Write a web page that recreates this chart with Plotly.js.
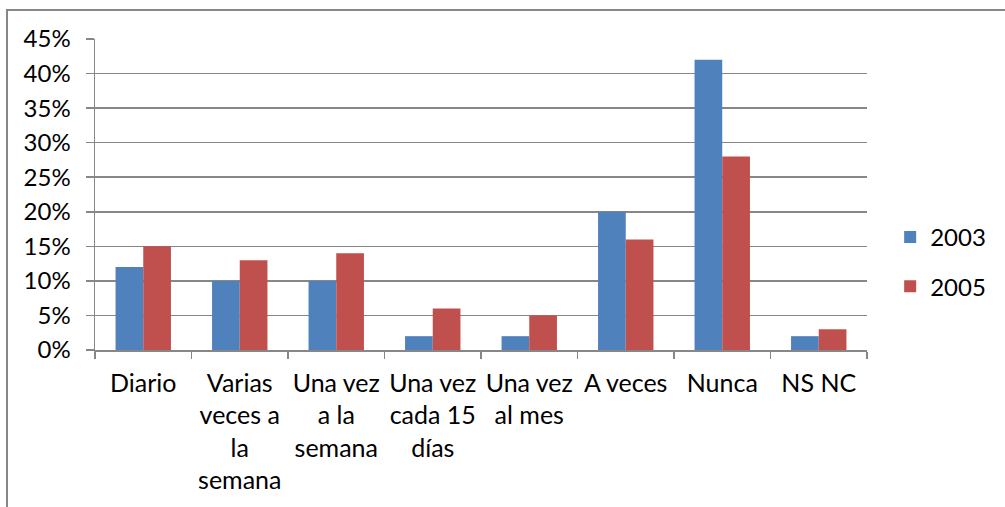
<!DOCTYPE html>
<html>
<head>
<meta charset="utf-8">
<script src="https://cdn.plot.ly/plotly-3.0.1.min.js"></script>
<style>html,body{margin:0;padding:0;background:#fff;}#chart{width:1005px;height:507px;}</style>
</head>
<body>
<div id="chart"></div>
<script>
const categories = ["Diario", "Varias<br>veces a<br>la<br>semana", "Una vez<br>a la<br>semana", "Una vez<br>cada 15<br>días", "Una vez<br>al mes", "A veces", "Nunca", "NS NC"];
const series2003 = [12, 10, 10, 2, 2, 20, 42, 2];
const series2005 = [15, 13, 14, 6, 5, 16, 28, 3];
const seriesNames = ["2003", "2005"];
const yTicks = [0, 5, 10, 15, 20, 25, 30, 35, 40, 45];
const yTickLabels = ["0%", "5%", "10%", "15%", "20%", "25%", "30%", "35%", "40%", "45%"];

const font = {family: "Lato, 'Open Sans', sans-serif", size: 24, color: "#000"};
const gridCol = "#878787";

const traces = [
  {type: "bar", name: seriesNames[0], x: categories, y: series2003, marker: {color: "#4F81BD"}, legendgroup: "a"},
  {type: "bar", name: seriesNames[1], x: categories, y: series2005, marker: {color: "#C0504D"}, legendgroup: "b"}
];

const layout = {
  width: 1005, height: 507,
  margin: {l: 95, r: 138, t: 39, b: 157},
  paper_bgcolor: "#fff", plot_bgcolor: "#fff",
  font: font,
  barmode: "group", bargap: 0.426, bargroupgap: 0,
  showlegend: true,
  legend: {x: 1.03, y: 0.283, xanchor: "left", yanchor: "middle", font: font, traceorder: "grouped", tracegroupgap: 15, bgcolor: "rgba(0,0,0,0)"},
  xaxis: {
    type: "category", tickson: "boundaries", ticks: "outside", ticklen: 7, tickcolor: gridCol, tickwidth: 1.5,
    showline: true, linecolor: gridCol, linewidth: 1.5, showgrid: false, tickangle: 0,
    ticklabelstandoff: 10, automargin: false,
    tickfont: {family: font.family, size: 25, color: "#000"}
  },
  yaxis: {
    range: [0, 45], tickmode: "array", tickvals: yTicks, ticktext: yTickLabels, ticks: "outside", ticklen: 8, tickcolor: gridCol, tickwidth: 1.5,
    showline: true, linecolor: gridCol, linewidth: 1.5, showgrid: true, gridcolor: gridCol, gridwidth: 1.5,
    zeroline: false, fixedrange: true, automargin: false, ticklabelstandoff: 10
  },
  shapes: [{
    type: "path", xref: "paper", yref: "paper",
    path: "M -0.114 -0.6 L -0.114 1.0932 L 1.25 1.0932",
    line: {color: "#878787", width: 2}
  }]
};

Plotly.newPlot("chart", traces, layout, {displayModeBar: false, staticPlot: true});
</script>
</body>
</html>
